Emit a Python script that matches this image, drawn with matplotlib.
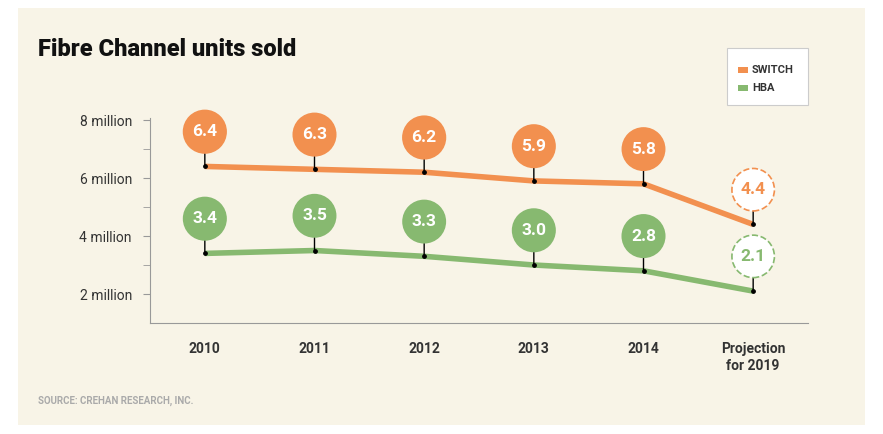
import matplotlib
matplotlib.use("Agg")
import matplotlib.pyplot as plt
from matplotlib.patches import Rectangle

categories = ["2010", "2011", "2012", "2013", "2014", "Projection\nfor 2019"]
switch = [6.4, 6.3, 6.2, 5.9, 5.8, 4.4]
hba = [3.4, 3.5, 3.3, 3.0, 2.8, 2.1]
yticks = [2, 4, 6, 8]
ytick_labels = ["2 million", "4 million", "6 million", "8 million"]

ORANGE = "#f2904f"
GREEN = "#87b970"
BG = "#f8f4e7"
plt.rcParams['font.family'] = ['Roboto', 'DejaVu Sans']

fig = plt.figure(figsize=(8.83, 4.34), dpi=100)
fig.patch.set_facecolor("white")
fig.add_artist(Rectangle((18/883, 1-425/434), (865-18)/883, (425-8)/434,
                         transform=fig.transFigure, facecolor=BG, edgecolor="none", zorder=0))
ax = fig.add_axes([150/883, 1-323/434, (808-150)/883, (323-118)/434])
ax.set_facecolor("none")
ax.set_xlim(-0.5, 5.5)
ax.set_ylim(1, 8.07)
for s in ["top", "right"]:
    ax.spines[s].set_visible(False)
for s in ["left", "bottom"]:
    ax.spines[s].set_color("#999999")
    ax.spines[s].set_linewidth(0.8)
ax.set_yticks(yticks)
ax.set_yticklabels(ytick_labels, fontsize=10, color="#333333")
ax.set_yticks([3, 5, 7], minor=True)
ax.tick_params(axis="y", which="both", length=5, color="#999999", direction="out", pad=8)
x = list(range(len(categories)))
ax.set_xticks(x)
ax.set_xticklabels(categories, fontsize=10, fontweight="bold", color="#333333")
ax.tick_params(axis="x", length=0, pad=14)

for vals, col in [(switch, ORANGE), (hba, GREEN)]:
    ax.plot(x, vals, color=col, lw=4, solid_capstyle="butt", zorder=2)
    ax.scatter(x, vals, s=6, color="black", zorder=4)
    for i, v in enumerate(vals):
        proj = i == len(vals) - 1
        ax.annotate(f"{v:.1f}", xy=(i, v), xytext=(0, 25), textcoords="offset points",
                    ha="center", va="center", fontsize=12.5, fontweight="bold",
                    color=col if proj else "white",
                    bbox=dict(boxstyle="circle,pad=0.5", fc="white" if proj else col,
                              ec=col, lw=1.2, ls="--" if proj else "-"),
                    arrowprops=dict(arrowstyle="-", color="black", lw=1, shrinkA=0, shrinkB=0),
                    zorder=5)

fig.text(38/883, 1-50/434, "Fibre Channel units sold", fontsize=17, fontweight="heavy",
         color="#111111", va="center")
fig.text(38/883, 1-401/434, "SOURCE: CREHAN RESEARCH, INC.", fontsize=7, fontweight="bold",
         color="#aaaaaa", va="center")
# legend
fig.add_artist(Rectangle((727/883, 1-105/434), (808-727)/883, (105-48)/434,
                         transform=fig.transFigure, facecolor="white", edgecolor="#cccccc", lw=0.8))
for yy, lab, col in [(70, "SWITCH", ORANGE), (88, "HBA", GREEN)]:
    fig.add_artist(Rectangle((738/883, 1-(yy+3)/434), 10/883, 6/434,
                             transform=fig.transFigure, facecolor=col, edgecolor="none"))
    fig.text(752/883, 1-yy/434, lab, fontsize=8, fontweight="bold", color="#333333", va="center")

fig.savefig("out.png", dpi=100)
